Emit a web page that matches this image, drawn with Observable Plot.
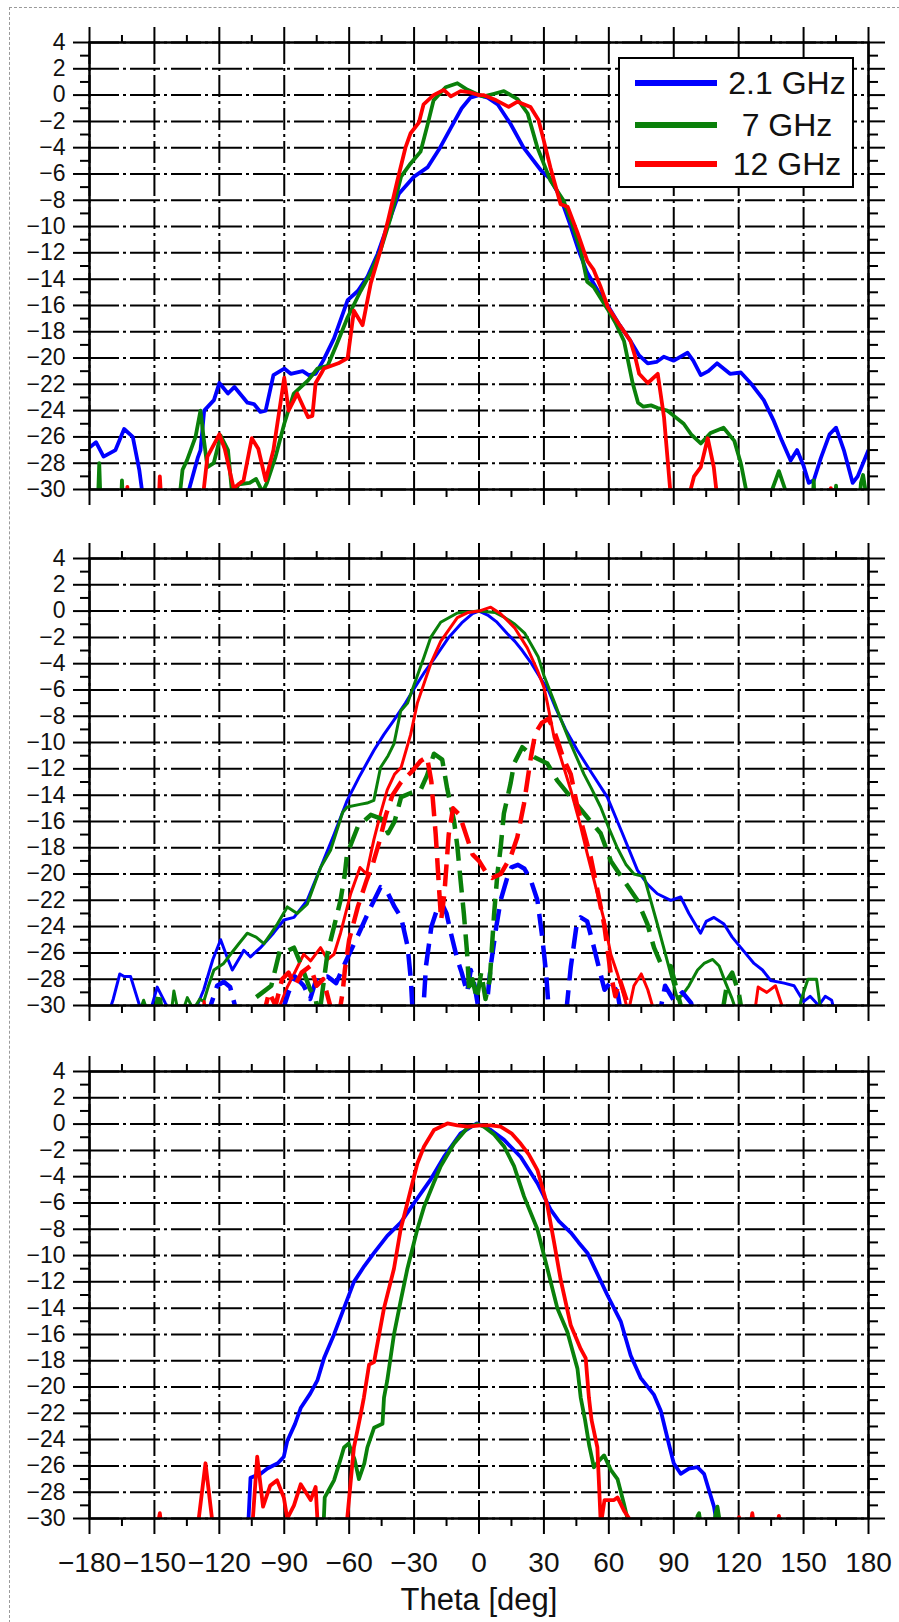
<!DOCTYPE html>
<html>
<head>
<meta charset="utf-8">
<script src="https://cdn.jsdelivr.net/npm/d3@7"></script>
<script src="https://cdn.jsdelivr.net/npm/@observablehq/plot@0.6"></script>
<style>
  html, body { margin: 0; padding: 0; background: #fff; }
  #wrap { position: relative; width: 899px; height: 1622px; overflow: hidden; font-family: "Liberation Sans", Arial, sans-serif; }
  #border { position: absolute; left: 9px; top: 7px; width: 900px; height: 1630px; border-left: 1.5px dashed #9a9a9a; border-top: 1.5px dashed #9a9a9a; pointer-events: none; }
  svg { display: block; }
  #legend { position: absolute; left: 618px; top: 57px; width: 232px; height: 127px; border: 2.5px solid #000; background: #fff; }
  .lrow { position: absolute; left: 0; width: 232px; height: 40px; }
  .lline { position: absolute; left: 15px; width: 82px; height: 6px; top: 17px; }
  .ltext { position: absolute; left: 103px; width: 128px; text-align: center; font-size: 32px; line-height: 40px; top: 0; color: #111; }
</style>
</head>
<body>
<div id="wrap">
  <div id="plots"></div>
  <div id="legend"></div>
  <div id="border"></div>
</div>
<script>
// ---------- tick labels ----------
const xTicks = [-180, -150, -120, -90, -60, -30, 0, 30, 60, 90, 120, 150, 180];
const xMinor = [-165, -135, -105, -75, -45, -15, 15, 45, 75, 105, 135, 165];
const yTicks = [-30, -28, -26, -24, -22, -20, -18, -16, -14, -12, -10, -8, -6, -4, -2, 0, 2, 4];
const yMinor = [-29, -27, -25, -23, -21, -19, -17, -15, -13, -11, -9, -7, -5, -3, -1, 1, 3];
const xLabel = ["Theta [deg]"];

// ---------- legend ----------
const freqs = ["2.1 GHz", "7 GHz", "12 GHz"];
const colors = ["#0000ff", "#0a800a", "#ff0000"];

// ---------- panel 1 (theta, dB) ----------
const p1_b = [[-180,-26.8],[-177,-26.4],[-173.5,-27.5],[-168,-27.0],[-164,-25.4],[-160,-26.0],[-157,-28.5],[-155,-31],[-140,-32],[-134,-30],[-130,-27.6],[-128.7,-27.0],[-127,-24],[-122.5,-23.2],[-120,-21.9],[-116,-22.7],[-113,-22.2],[-107,-23.4],[-104,-23.5],[-101,-24.1],[-98.6,-24],[-95,-21.3],[-90,-20.8],[-87,-21.2],[-81.5,-21],[-78.7,-21.3],[-75.5,-21.2],[-72,-20.2],[-67,-18.5],[-60.7,-15.6],[-56,-14.9],[-51.5,-13.8],[-46.9,-12.1],[-42,-9.8],[-37,-7.5],[-30,-6.2],[-23.8,-5.5],[-18,-4.0],[-13,-2.5],[-8,-1.0],[-4,-0.2],[0,0],[4,-0.2],[8.6,-0.7],[14.6,-2.2],[20.6,-4.0],[28.5,-5.7],[33,-6.4],[37.7,-7.8],[42,-9.8],[46,-11.8],[50,-13.5],[55,-14.9],[59.5,-16],[65,-17.5],[70,-18.7],[74,-19.8],[78,-20.4],[82,-20.3],[85.4,-19.9],[90,-20.2],[96.4,-19.6],[99,-20.2],[102.5,-21.3],[106,-21.0],[110,-20.4],[113,-20.8],[116,-21.2],[121,-21.1],[126,-22],[131.6,-23.2],[136,-24.7],[140,-26.3],[144,-27.8],[147,-27.0],[150,-28.2],[152.4,-29.5],[154.7,-29.3],[158,-27.6],[162,-25.8],[165,-25.3],[168.6,-27],[172.7,-29.5],[175,-29],[178,-27.8],[180,-27]];
const p1_g = [[-176.5,-33],[-175.5,-28.0],[-174.5,-33],[-166,-33],[-165,-29.3],[-164,-33],[-140,-33],[-138,-30],[-137,-28.5],[-135,-27.8],[-131,-26],[-128.7,-24],[-127.3,-26.0],[-125.5,-28.3],[-122.6,-28.0],[-119.4,-25.9],[-116,-27],[-114,-30.5],[-111,-29.6],[-106,-29.5],[-103,-29.2],[-100,-30.2],[-98,-29.5],[-94,-27.5],[-90,-25],[-85.6,-22.7],[-79,-21.7],[-74.6,-20.8],[-70,-20.6],[-65.6,-18.9],[-60.7,-16.9],[-54.7,-14.9],[-50,-13.5],[-45.5,-11.8],[-40.8,-9.3],[-36,-6.2],[-31.6,-5.2],[-27,-4.3],[-24,-2.4],[-21,-0.4],[-15.4,0.6],[-10,0.9],[-5.3,0.4],[0,0],[2.2,-0.1],[7,0.1],[11.5,0.3],[17.8,-0.3],[22.5,-1.4],[27,-4.0],[33,-6.5],[39,-8.0],[43,-9.8],[47,-11.8],[50,-14.2],[53,-14.6],[59.5,-16.3],[63,-17.3],[67,-18.7],[71,-21.9],[73.5,-23.4],[76,-23.7],[79.5,-23.6],[82.6,-23.8],[87,-24],[94.6,-25],[98,-25.8],[102.5,-26.5],[107,-25.7],[113,-25.3],[118,-26.3],[121,-28],[124,-30.5],[134,-33],[135.5,-30],[138.6,-28.6],[141.5,-30],[142.5,-33],[153.5,-33],[154.7,-29.3],[155.5,-33],[164,-33],[165,-29.7],[166,-33],[175,-33],[176.5,-29.5],[177.5,-28.9],[179,-30.5],[180,-33]];
const p1_r = [[-163.5,-33],[-162.5,-29.8],[-161.5,-33],[-148.5,-33],[-147.5,-29.0],[-146,-33],[-128,-33],[-127.2,-30],[-125.5,-27.5],[-120,-25.8],[-117.5,-26.9],[-113.4,-29.9],[-108.8,-29.3],[-105,-26.1],[-102,-26.9],[-98.6,-29.3],[-95,-27.0],[-90,-21.5],[-88,-24],[-84,-22.7],[-79,-24.5],[-77,-24.4],[-75.5,-21.9],[-73,-21.2],[-71.7,-20.8],[-65,-20.4],[-60.7,-20.0],[-57.8,-16.4],[-53.8,-17.5],[-50,-14.3],[-45.5,-11.8],[-42,-9.5],[-37.7,-6.5],[-34,-4.0],[-31.6,-2.9],[-27.8,-2.1],[-25.6,-0.7],[-21,0],[-16.3,0.4],[-13,-0.1],[-8.5,0.3],[-4,0.2],[0,0],[2,0],[8,-0.4],[13.7,-0.9],[17.8,-0.5],[23.8,-0.9],[27.5,-1.9],[30,-3.5],[33,-5.5],[37.7,-8.3],[41,-8.5],[45.6,-10.5],[50,-12.6],[53,-13.3],[56,-14.5],[59.5,-16.1],[65,-17.5],[70,-18.7],[72,-19.8],[74,-21.2],[78,-21.9],[82.6,-21.2],[85.5,-24.5],[88.6,-30.5],[90,-33],[96,-33],[97.8,-30],[99.4,-29],[102.5,-28.3],[105.7,-26.1],[108.5,-28.3],[110,-30.5],[111,-33],[161.5,-33],[162.6,-29.9],[164,-33]];

// ---------- panel 2: co-pol (solid) ----------
const p2_b = [[-172,-31],[-169,-29.5],[-166,-27.6],[-164,-27.8],[-161,-27.8],[-158,-29.4],[-155,-31],[-152,-30.5],[-148.7,-28.6],[-145,-29.8],[-141,-31],[-131,-31],[-130.2,-30],[-127.2,-28.8],[-123,-26.5],[-119.4,-25.0],[-116,-26.5],[-114,-27.3],[-110,-26.2],[-108.7,-25.8],[-105.6,-26.3],[-101,-25.6],[-95,-24.5],[-90.2,-23.5],[-85.5,-23.3],[-79.4,-22.0],[-73.2,-19.5],[-67,-17],[-60.9,-14.4],[-55,-12.5],[-48.6,-10.6],[-44,-9.4],[-39.3,-8.3],[-34,-7],[-30,-5.9],[-25,-4.6],[-21,-3.7],[-14,-2.0],[-8,-0.9],[-3,-0.2],[0,0],[4,-0.3],[8,-0.8],[13,-1.7],[16.6,-2.3],[20,-3.0],[24.3,-4.0],[28,-5.0],[32,-6.0],[35.5,-7.4],[40,-9.0],[45.5,-10.6],[52,-12.3],[59.3,-14.15],[66,-16.8],[73.2,-19.7],[78,-20.8],[82.4,-21.5],[88.6,-22.0],[93.2,-21.75],[97,-23],[102.4,-24.5],[105,-23.6],[108.6,-23.3],[113.2,-23.8],[117,-24.8],[121,-25.6],[127.1,-26.8],[131,-27.3],[134.8,-28.1],[141,-28.3],[145.6,-28.5],[150,-29.7],[153,-29.3],[157,-30],[160,-29.3],[163,-29.6],[165,-31]];
const p2_g = [[-158,-31],[-155,-29.6],[-152,-31],[-142.5,-31],[-141,-28.9],[-139,-30.5],[-136,-30],[-134.8,-29.4],[-132,-30.3],[-129,-29.5],[-127.2,-29.7],[-125,-28.5],[-122.5,-27.3],[-118,-26.8],[-114.8,-26.1],[-111,-25.3],[-107.1,-24.5],[-103,-24.8],[-99.4,-25.3],[-96,-24.5],[-93.2,-23.8],[-88.6,-22.5],[-84,-23.0],[-79.4,-22.3],[-73.2,-19.5],[-68.6,-18.2],[-63,-15.3],[-60.9,-14.9],[-55,-14.7],[-51.7,-14.6],[-48.6,-14.4],[-45.5,-11.9],[-42,-11],[-39.3,-10.1],[-36.2,-7.6],[-33,-7.0],[-30,-5.6],[-25.4,-3.5],[-22.3,-2.0],[-17.7,-0.85],[-10,-0.15],[0,0],[7.4,-0.1],[12,-0.5],[16.6,-1.0],[21.2,-1.7],[24,-2.5],[27.4,-3.5],[30,-4.9],[35,-7.0],[38,-8.3],[42.4,-10.1],[48.5,-12.4],[52,-13.5],[56.2,-14.9],[60,-16.5],[63.9,-18.0],[68,-19.3],[71.6,-20.0],[76.3,-20.2],[79,-21.8],[82.4,-23.8],[86,-26],[88.6,-27.6],[91.7,-29.5],[94,-29.2],[97,-28.5],[101,-27.3],[104,-26.8],[108,-26.5],[111,-27],[114,-28.3],[117,-29.5],[120,-31],[147,-31],[149,-29.5],[152,-28],[156,-28],[158,-30.5]];
const p2_r = [[-128,-31],[-127,-29.7],[-126,-31],[-95,-31],[-92,-30],[-88.6,-28.6],[-85.5,-27.6],[-81,-26.1],[-77.8,-26.6],[-73.2,-25.6],[-70,-26.5],[-67,-26.1],[-64,-24.5],[-59.3,-21.5],[-55,-19.5],[-52,-20.0],[-48.6,-17.4],[-45.5,-15.4],[-42.4,-13.6],[-39,-12.4],[-36,-11.9],[-31.6,-9.4],[-28.5,-7.0],[-22.3,-4.0],[-17.7,-2.3],[-10,-0.5],[-5,-0.1],[0,0],[5.4,0.3],[10,-0.2],[16.6,-1.3],[22.3,-2.8],[27,-4.5],[30,-5.8],[31.6,-7],[34.7,-9.6],[37.7,-11.1],[42.4,-13.6],[47,-16.4],[50.1,-18.5],[53.2,-20.5],[57.8,-23.5],[60.9,-26.1],[64,-27.6],[67,-29.3],[69,-30.5],[71.6,-28.5],[75,-27.6],[78,-28.8],[81,-30.5],[83,-31],[127,-31],[129,-28.6],[133,-29],[137,-28.5],[141,-30.5],[143,-31]];
// ---------- panel 2: cross-pol (dashed) ----------
const p2_bx = [[-126,-31],[-121,-28.5],[-118,-28.2],[-115,-28.6],[-112,-30.5],[-92,-31],[-88,-29],[-85,-27.8],[-81,-28.5],[-78,-29.5],[-75,-27.9],[-70,-27.8],[-66,-28.3],[-62,-26.8],[-56,-24.7],[-50,-22.5],[-45.5,-21],[-42,-21.5],[-39,-22.5],[-36,-23.3],[-33,-25.5],[-31.5,-28],[-30.5,-31],[-26,-31],[-24.5,-27],[-22,-24],[-19,-22.5],[-17,-22.3],[-15,-23],[-13,-24.5],[-10,-26.5],[-8,-27.5],[-5.5,-29],[-3.8,-27.3],[-2,-28.5],[0,-30.5],[3,-31],[5.4,-27],[8,-24],[10,-22],[13,-20.3],[15,-19.5],[18,-19.3],[21,-19.6],[24,-20.5],[27,-22],[29,-24.5],[31,-27.5],[32.5,-31],[40,-31],[42.4,-27.1],[45,-24],[47,-23.3],[50,-23.6],[53,-25.5],[56,-27.5],[58,-28.8],[61,-28.2],[64,-29],[66,-31],[83,-31],[86,-28.5],[90,-29.6],[94,-29],[98,-29.8],[100,-31]];
const p2_gx = [[-150,-31],[-148,-29],[-146,-31],[-108,-31],[-104,-29.5],[-100,-29],[-96,-28.5],[-92,-25.8],[-88,-25.8],[-85.5,-25.6],[-82,-27],[-78,-28.8],[-75.5,-29.5],[-74,-31],[-72,-28.5],[-70,-26],[-67,-24],[-64,-22],[-62,-20],[-61,-18.5],[-56,-16.4],[-50,-15.5],[-45,-15.8],[-42,-16.9],[-39,-16],[-36,-14.15],[-31,-13.8],[-27,-13.6],[-24,-12.5],[-20.8,-10.85],[-17,-11.3],[-14.7,-13.5],[-11.5,-16],[-10,-17.9],[-8.5,-20.5],[-7,-23],[-5.5,-26],[-4.5,-29],[-3,-28],[-1,-29.5],[1,-27.5],[3,-29.5],[5,-28],[7,-23],[8.5,-20],[10,-18],[11.5,-15.4],[14.6,-13.1],[16.2,-11.6],[20,-10.35],[25.4,-11.1],[31.6,-11.6],[36.2,-12.9],[42.4,-14.15],[50.1,-15.7],[56.2,-16.9],[60.9,-19],[67,-20.5],[73.2,-22],[77.8,-23.8],[80.9,-25.6],[84,-26.8],[88.6,-27.0],[91.7,-29],[94,-30.5],[112,-31],[115,-28],[117,-27.5],[120,-29],[122,-31]];
const p2_rx = [[-100,-31],[-97,-29],[-94,-30],[-91,-28],[-88,-27.5],[-85,-28.5],[-82,-27.5],[-78,-27],[-75,-28.5],[-72,-28],[-68,-30.5],[-65,-31],[-63,-29],[-62,-27.3],[-60,-25],[-56,-22.5],[-52,-20.5],[-49,-19.2],[-46,-17.5],[-43,-15.5],[-40,-14],[-36,-13],[-31,-12.2],[-27,-11.4],[-24,-11.1],[-22,-13],[-20,-17],[-18.5,-21],[-17.5,-23.5],[-16,-21.5],[-14,-17],[-12,-15],[-9,-15.5],[-6,-17],[-3,-18.5],[0,-19],[3,-19.8],[6,-20.3],[10,-20],[14.6,-18.7],[17.7,-17.2],[20.8,-14.65],[24,-11.1],[26,-9.3],[29,-8.5],[32,-8.2],[34,-8.8],[36.2,-9.8],[39,-11.2],[42.4,-12.4],[45.5,-14.9],[48,-16.5],[51.6,-18.7],[54.7,-21.2],[57.8,-23.8],[60.9,-27.6],[63,-29.3],[65,-28],[68,-29.5],[70,-31]];

// ---------- panel 3 ----------
const p3_b = [[-108,-31],[-106.5,-30],[-105.6,-26.9],[-100.9,-26.6],[-97.8,-26.2],[-93,-25.8],[-90.2,-25.3],[-88.6,-24.1],[-85,-22.8],[-82.4,-21.6],[-78,-20.5],[-74.7,-19.5],[-71.6,-17.8],[-67,-16],[-62.4,-14.0],[-57.8,-12.0],[-53,-10.8],[-48.5,-9.8],[-42.4,-8.5],[-36.2,-7.5],[-30,-6.0],[-22.3,-4.2],[-16.2,-2.5],[-8.5,-0.7],[-1,0.05],[0,0],[5,-0.4],[11.6,-1.2],[19.3,-2.5],[27,-4.5],[33.1,-6.5],[37,-7.4],[42.4,-8.25],[46,-9],[50.1,-9.8],[55,-11.5],[59.3,-13.0],[65.5,-15.0],[70.1,-17.6],[74.7,-19.3],[80.9,-20.6],[84,-21.8],[88,-24.5],[90,-25.8],[93.2,-26.6],[97,-26.2],[100.9,-26.1],[104,-26.6],[106,-27.7],[108.6,-29.1],[110.5,-31]];
const p3_g = [[-74,-31],[-71.7,-30],[-71.3,-28.4],[-67,-27.1],[-64,-25.5],[-62.4,-24.6],[-60.2,-24.3],[-57.5,-25.5],[-55.5,-27.0],[-53,-25.8],[-51.6,-24.6],[-48.5,-23.1],[-44.6,-22.8],[-43.9,-20.8],[-42.4,-19.5],[-39.3,-16.0],[-36,-13.3],[-33.1,-11.0],[-28.5,-8.0],[-25.4,-6.3],[-21,-4.5],[-17.7,-3.2],[-11.6,-1.5],[-5.4,-0.3],[-0.8,0],[2.3,-0.2],[7,-0.8],[11.6,-1.7],[16.2,-3.2],[20.8,-5.5],[27,-8.0],[31.6,-11.0],[36.2,-14.0],[40.8,-15.8],[45.5,-18.6],[47,-20.8],[49,-22.5],[51,-24.5],[53.1,-26.1],[55.5,-25.6],[57.8,-25.2],[60.9,-26.3],[64,-27.0],[67,-28.9],[68.6,-30],[70,-31],[100,-31],[101,-29.8],[101.7,-29.6],[103,-31],[108,-31],[109.5,-29.5],[110.2,-29.1],[112,-31]];
const p3_r = [[-149,-31],[-147.5,-29.6],[-146.5,-31],[-130.5,-31],[-129.5,-30],[-126.4,-25.8],[-123.4,-30],[-122.5,-31],[-105.5,-31],[-104.5,-30],[-102.5,-25.3],[-99.8,-29.1],[-96.5,-27.5],[-93.3,-27.1],[-90.2,-28.4],[-88.6,-30],[-85.5,-29],[-82.4,-27.4],[-77.8,-28.6],[-75.5,-27.6],[-74.7,-30],[-73.5,-31],[-62,-31],[-60.9,-30],[-57.8,-24.6],[-54.7,-22.1],[-53.2,-20.8],[-50.8,-18.3],[-48.5,-18.1],[-43.9,-14.0],[-39.3,-11.0],[-36.2,-8.0],[-33.1,-6.0],[-28.5,-3.0],[-25.4,-1.7],[-20.8,-0.45],[-14.6,0.05],[-10,-0.1],[-5.4,-0.2],[0.8,-0.1],[5.4,-0.1],[10,-0.2],[15,-0.7],[19.3,-1.5],[23,-2.3],[27,-3.5],[31.6,-6.2],[34.7,-9.0],[37.7,-11.8],[42.4,-15.3],[47,-17.1],[49.3,-17.8],[50.8,-20.8],[52,-22.5],[54.7,-24.6],[56.3,-30.5],[58,-28.6],[59.3,-28.6],[62.4,-28.6],[64,-28.4],[67,-29.4],[69.4,-30],[70.5,-31],[119,-31],[120.2,-29.9],[121.2,-31],[125,-31],[126.3,-29.6],[127.5,-31],[137.5,-31],[138.6,-29.8],[139.6,-31]];

// ---------- drawing ----------
const X = d => d[0], Y = d => d[1];
const font = '"Liberation Sans", Arial, Helvetica, sans-serif';

function lineMarks(list) {
  return list.map(s => Plot.line(s.data, {
    x: X, y: Y, stroke: s.color, strokeWidth: s.width,
    strokeDasharray: s.dash || null, strokeLinejoin: "round", strokeLinecap: "butt", clip: true
  }));
}

function panel({series, marginTop, marginBottom, showX}) {
  const height = marginTop + 447 + marginBottom;
  const blank = () => "";
  const tk = {stroke: "black", strokeWidth: 2, label: null};
  return Plot.plot({
    width: 899, height,
    marginLeft: 89, marginRight: 31, marginTop, marginBottom,
    x: {domain: [-180, 180], axis: null},
    y: {domain: [-30, 4], axis: null},
    style: {fontFamily: font, color: "#111", background: "transparent", overflow: "visible"},
    marks: [
      Plot.gridX(xTicks, {stroke: "black", strokeOpacity: 1, strokeWidth: 2, strokeDasharray: "22,4,3,4"}),
      Plot.gridY(yTicks, {stroke: "black", strokeOpacity: 1, strokeWidth: 2, strokeDasharray: "30,4,3,4"}),
      ...lineMarks(series),
      Plot.frame({stroke: "black", strokeWidth: 2.5}),
      Plot.axisY(yTicks, {...tk, anchor: "left", tickSize: 16, tickPadding: 8, fontSize: 23}),
      Plot.axisY(yMinor, {...tk, anchor: "left", tickSize: 9, tickFormat: blank}),
      Plot.axisY(yTicks, {...tk, anchor: "right", tickSize: 16, tickFormat: blank}),
      Plot.axisY(yMinor, {...tk, anchor: "right", tickSize: 9, tickFormat: blank}),
      Plot.axisX(xTicks, {...tk, anchor: "top", tickSize: 16, tickFormat: blank}),
      Plot.axisX(xMinor, {...tk, anchor: "top", tickSize: 8, tickFormat: blank}),
      showX
        ? Plot.axisX(xTicks, {...tk, anchor: "bottom", tickSize: 16, tickPadding: 18, fontSize: 28})
        : Plot.axisX(xTicks, {...tk, anchor: "bottom", tickSize: 16, tickFormat: blank}),
      Plot.axisX(xMinor, {...tk, anchor: "bottom", tickSize: 8, tickFormat: blank}),
      showX ? Plot.text(xLabel, {frameAnchor: "bottom", lineAnchor: "middle", dy: 82, fontSize: 31, fill: "#111"}) : null
    ]
  });
}

const plots = document.getElementById("plots");
plots.appendChild(panel({
  marginTop: 42, marginBottom: 27, showX: false,
  series: [
    {data: p1_b, color: colors[0], width: 3.8},
    {data: p1_g, color: colors[1], width: 3.8},
    {data: p1_r, color: colors[2], width: 3.8}
  ]
}));
plots.appendChild(panel({
  marginTop: 42, marginBottom: 27, showX: false,
  series: [
    {data: p2_b, color: colors[0], width: 3},
    {data: p2_g, color: colors[1], width: 3},
    {data: p2_r, color: colors[2], width: 3},
    {data: p2_bx, color: colors[0], width: 4.5, dash: "22,10"},
    {data: p2_gx, color: colors[1], width: 4.5, dash: "22,10"},
    {data: p2_rx, color: colors[2], width: 4.5, dash: "22,10"}
  ]
}));
plots.appendChild(panel({
  marginTop: 39, marginBottom: 104, showX: true,
  series: [
    {data: p3_b, color: colors[0], width: 3.8},
    {data: p3_g, color: colors[1], width: 3.8},
    {data: p3_r, color: colors[2], width: 3.8}
  ]
}));

// legend
const legend = document.getElementById("legend");
const rowTops = [4, 46, 85];
freqs.forEach((f, i) => {
  const row = document.createElement("div");
  row.className = "lrow";
  row.style.top = rowTops[i] + "px";
  const ln = document.createElement("div");
  ln.className = "lline";
  ln.style.background = colors[i];
  const tx = document.createElement("div");
  tx.className = "ltext";
  tx.textContent = f;
  row.appendChild(ln); row.appendChild(tx);
  legend.appendChild(row);
});
</script>
</body>
</html>
